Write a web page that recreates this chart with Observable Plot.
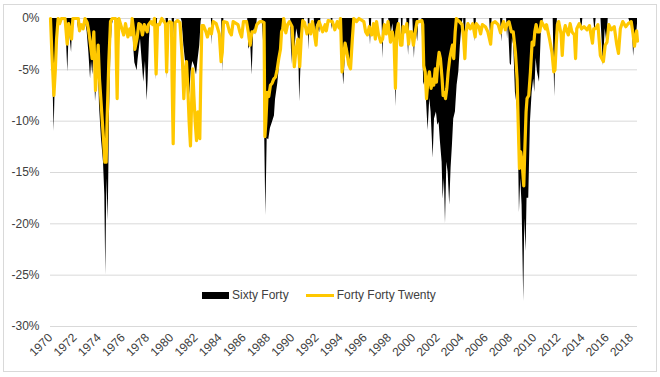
<!DOCTYPE html>
<html>
<head>
<meta charset="utf-8">
<script src="https://cdn.jsdelivr.net/npm/d3@7"></script>
<script src="https://cdn.jsdelivr.net/npm/@observablehq/plot@0.6"></script>
<style>
  html, body { margin: 0; padding: 0; background: #fff; }
  #wrap { position: relative; width: 660px; height: 377px; font-family: "Liberation Sans", Arial, sans-serif; }
  #border { position: absolute; left: 3px; top: 4px; width: 652px; height: 366px; border: 1px solid #d9d9d9; pointer-events: none; }
  #legend { position: absolute; left: 202px; top: 288px; display: flex; align-items: center; font-size: 12px; color: #404040; white-space: nowrap; }
  .sw-area { display: inline-block; width: 27px; height: 7px; background: #000; margin-right: 3px; }
  .sw-line { display: inline-block; width: 28px; height: 3px; background: #FFC800; margin-right: 3px; margin-left: 17px; }
</style>
</head>
<body>
<div id="wrap">
  <div id="chart"></div>
  <div id="border"></div>
  <div id="legend"><span class="sw-area"></span><span>Sixty Forty</span><span class="sw-line"></span><span>Forty Forty Twenty</span></div>
</div>
<script>
const seriesNames = ["Sixty Forty", "Forty Forty Twenty"];
const yearTicks = d3.range(1970, 2019, 2);
const pctTicks = [0, -5, -10, -15, -20, -25, -30];

// [year, drawdown %]
const sixtyForty = [
[1970.00,0],[1970.10,-3],[1970.20,-6],[1970.30,-11],[1970.40,-6],[1970.50,-1.5],[1970.60,0],
[1971.20,0],[1971.30,-1.5],[1971.43,-5.2],[1971.55,-1],[1971.74,-3.3],[1971.85,0],
[1972.22,0],[1972.28,-1],[1972.34,0],
[1972.85,0],[1973.03,-1.3],[1973.17,-3.3],[1973.31,-5.9],[1973.39,-4.2],[1973.50,-5.5],[1973.61,-2.6],[1973.72,-8.1],[1973.80,-6.8],[1973.94,-3.9],[1974.05,-8.5],[1974.21,-11.7],[1974.38,-14],[1974.49,-17.2],[1974.57,-25],[1974.66,-15.6],[1974.77,-19.7],[1974.88,-9.1],[1974.99,-3.3],[1975.10,-0.7],[1975.23,0],
[1975.45,0],[1975.51,-0.5],[1975.60,0],
[1976.75,0],[1976.89,-3],[1976.97,-4.3],[1977.16,-5.1],[1977.24,-4],[1977.44,-2],[1977.58,-4.2],[1977.71,-6.2],[1977.85,-4.2],[1977.99,-8],[1978.07,-6],[1978.18,-2],[1978.30,0],
[1978.60,0],[1978.73,-6],[1978.85,0],
[1979.55,0],[1979.64,-5.9],[1979.75,0],
[1980.05,0],[1980.14,-2.5],[1980.25,0],
[1980.80,0],[1980.88,-0.3],[1981.02,-2.6],[1981.16,-4.2],[1981.30,-5.2],[1981.43,-5.9],[1981.51,-7.5],[1981.62,-5.2],[1981.76,-4.2],[1981.90,-4.6],[1982.07,-5.5],[1982.18,-4.2],[1982.34,-2.6],[1982.45,-0.3],[1982.50,0],
[1983.30,0],[1983.36,-2.6],[1983.42,0],
[1984.15,0],[1984.24,-5.2],[1984.33,0],
[1986.30,0],[1986.39,-3],[1986.55,-2.5],[1986.67,-5.5],[1986.80,-1],[1986.95,-1.6],[1987.10,0],
[1987.49,0],[1987.63,-2.6],[1987.71,-11.7],[1987.80,-19.2],[1987.91,-11.7],[1988.04,-11.8],[1988.18,-10.7],[1988.32,-10.2],[1988.51,-9.5],[1988.60,-7.9],[1988.79,-6.3],[1988.87,-5.3],[1988.95,-4],[1989.06,-2.1],[1989.15,-1],[1989.28,0],
[1989.85,0],[1989.95,-4.5],[1990.05,-1],[1990.20,-3],[1990.35,-1],[1990.50,-2],[1990.60,-8.1],[1990.72,-4],[1990.85,-1.5],[1991.00,0],
[1991.30,0],[1991.37,-3.1],[1991.45,0],
[1991.80,0],[1991.90,-1.8],[1992.00,-0.5],[1992.25,-1.4],[1992.35,0],
[1993.20,0],[1993.28,-1.1],[1993.35,0],
[1994.00,0],[1994.10,-3.5],[1994.24,-6.5],[1994.38,-3.5],[1994.55,-2.8],[1994.79,-4.9],[1994.92,-3],[1995.05,0],
[1996.35,0],[1996.45,-2.6],[1996.55,0],
[1997.40,0],[1997.49,-3.9],[1997.58,0],
[1997.95,0],[1998.15,-1.6],[1998.30,-0.5],[1998.45,-3],[1998.57,-8.6],[1998.70,-1.3],[1998.80,0],
[1999.00,0],[1999.06,-2.9],[1999.15,0],[1999.45,0],[1999.60,-3.6],[1999.70,0],[1999.95,0],[2000.08,-3.9],[2000.20,-0.5],[2000.35,-2.3],[2000.45,0],
[2000.70,0],[2000.77,-2.6],[2000.85,-6.5],[2000.99,-5.9],[2001.08,-8],[2001.21,-10.9],[2001.35,-7.8],[2001.46,-9.1],[2001.63,-13.6],[2001.74,-9.8],[2001.90,-9.1],[2002.01,-10.4],[2002.12,-10.1],[2002.23,-12],[2002.37,-14],[2002.45,-17.6],[2002.56,-15.6],[2002.65,-20],[2002.76,-14],[2002.87,-15],[2003.00,-18.2],[2003.11,-14.6],[2003.22,-12.4],[2003.33,-9.8],[2003.47,-9.1],[2003.61,-6.5],[2003.75,-5.2],[2003.88,-2.6],[2004.02,-0.6],[2004.10,0],
[2004.15,0],[2004.25,-3],[2004.35,0],
[2005.00,0],[2005.10,-2.3],[2005.20,0],
[2006.30,0],[2006.40,-2.5],[2006.50,0],
[2007.20,0],[2007.30,-2.3],[2007.40,0],
[2007.70,0],[2007.78,-2],[2007.85,-0.5],[2008.00,-4.4],[2008.10,-4.6],[2008.18,-2],[2008.29,-2.6],[2008.43,-7.2],[2008.57,-8.5],[2008.65,-9.8],[2008.76,-18.9],[2008.87,-15.6],[2008.98,-18.2],[2009.12,-27.6],[2009.20,-19.5],[2009.31,-22.7],[2009.39,-17.5],[2009.53,-17.5],[2009.67,-10.1],[2009.81,-7.2],[2009.94,-5.9],[2010.03,-7.2],[2010.14,-3.9],[2010.25,-5.2],[2010.42,-6.2],[2010.58,-1],[2010.75,0],
[2011.55,0],[2011.68,-7.6],[2011.80,-2],[2011.90,0],
[2013.80,0],[2013.90,-1.3],[2014.00,0],
[2014.90,0],[2015.00,-1.3],[2015.10,0],
[2015.50,0],[2015.70,-4.6],[2015.85,-1],[2016.00,-2.5],[2016.10,0],
[2017.80,0],[2018.10,-1],[2018.20,-3.7],[2018.30,-2],[2018.45,-1.5],[2018.52,-0.5]
];

const fortyFortyTwenty = [
[1970.00,0],[1970.10,-3],[1970.20,-5.5],[1970.28,-7.5],[1970.40,-5],[1970.50,-2],[1970.63,0],
[1970.75,-0.5],[1970.90,0],[1971.20,0],[1971.38,-2.5],[1971.50,-0.5],[1971.74,-2],[1971.85,0],
[1972.30,0],[1972.40,-1.2],[1972.55,-0.6],[1972.70,-1],[1972.85,0],
[1973.03,-0.4],[1973.17,-1.3],[1973.31,-2.6],[1973.44,-3.9],[1973.58,-1.3],[1973.72,-7],[1973.86,-4.2],[1973.94,-2.6],[1974.05,-5.9],[1974.16,-7.8],[1974.27,-9.8],[1974.38,-11.7],[1974.49,-14],[1974.60,-14],[1974.68,-9.8],[1974.82,-4.2],[1974.96,-0.3],[1975.10,0],
[1975.38,0],[1975.46,-5],[1975.51,-7.8],[1975.58,-3],[1975.65,0],
[1975.90,-1],[1976.05,-1.6],[1976.20,-0.5],[1976.40,-1.8],[1976.55,-1],[1976.65,-1.6],[1976.75,0],
[1976.89,-1.3],[1976.97,-3],[1977.16,-1.9],[1977.30,-0.5],[1977.44,-0.6],[1977.60,-1.6],[1977.75,-0.6],[1977.99,-1.3],[1978.10,-0.6],[1978.30,-0.3],[1978.45,-0.6],[1978.60,0],[1978.73,-5.4],[1978.85,-0.6],[1979.00,-0.6],[1979.20,0],
[1979.50,-0.5],[1979.60,-5.2],[1979.72,-0.5],[1979.85,-0.3],
[1980.00,-0.4],[1980.05,-5.9],[1980.14,-12.2],[1980.22,-5.9],[1980.30,-0.4],[1980.50,-0.2],[1980.70,-0.4],
[1980.91,-4.2],[1981.02,-7.8],[1981.13,-5.2],[1981.24,-4.2],[1981.35,-6.8],[1981.46,-10.1],[1981.57,-12.4],[1981.68,-7.5],[1981.76,-4.9],[1981.85,-7.5],[1981.96,-10.1],[1982.07,-11.9],[1982.18,-9.1],[1982.26,-11.4],[1982.34,-11.7],[1982.42,-5.9],[1982.51,-0.7],
[1982.65,-0.7],[1982.85,-1.3],[1982.97,-1.8],[1983.15,-1],[1983.30,-1.5],[1983.45,-0.3],[1983.70,-0.5],
[1983.95,-1.5],[1984.10,-4.2],[1984.20,-3.3],[1984.30,-0.3],
[1984.60,-0.4],[1984.80,-1.3],[1984.95,-1.6],[1985.10,-0.3],[1985.50,-0.6],[1985.65,-1.3],[1985.80,-1.8],[1985.95,-0.3],
[1986.20,-0.3],[1986.39,-1.6],[1986.50,-2.6],[1986.65,-1.3],[1986.90,-1.3],[1987.05,-0.6],[1987.30,-0.3],[1987.50,-0.3],[1987.65,-0.4],[1987.72,-11.5],[1987.80,-10.1],[1987.91,-7.2],[1988.04,-7.6],[1988.18,-6.5],[1988.32,-6.3],[1988.45,-5.9],[1988.60,-5.7],[1988.73,-5],[1988.87,-3.9],[1989.01,-3],[1989.10,-1.3],[1989.20,-1],[1989.28,0],
[1989.45,-1.4],[1989.60,-0.6],[1989.75,-0.3],[1989.97,-0.8],[1990.15,-4.7],[1990.30,-3],[1990.45,-2],[1990.60,-4.7],[1990.72,-2],[1990.85,-0.2],[1991.00,-0.4],
[1991.20,-1.5],[1991.40,-0.6],[1991.50,-1.5],[1991.65,-0.3],[1991.95,-2.6],[1992.05,-0.8],[1992.20,-0.3],[1992.50,-1.3],[1992.70,-0.6],[1992.80,-1.2],[1992.95,-0.2],[1993.30,-0.3],[1993.50,-1.1],[1993.70,-0.3],[1993.85,-0.9],[1993.97,0],
[1994.10,-5.2],[1994.20,-4],[1994.35,-2.4],[1994.50,-3.3],[1994.65,-4.5],[1994.80,-4.9],[1994.95,-2],[1995.07,0],
[1995.30,-0.3],[1995.50,0],[1995.90,-0.3],[1996.05,-1.3],[1996.20,-1.6],[1996.35,-0.8],[1996.55,-1.6],[1996.70,-0.5],[1996.85,-2],[1996.95,-0.3],[1997.10,-1.5],[1997.30,-2.3],[1997.45,-2],[1997.60,-0.6],[1997.75,-1.5],[1997.90,-0.3],[1998.10,-2.3],[1998.25,-1.3],[1998.40,-2.3],[1998.51,-6.8],[1998.62,-1.3],[1998.75,-0.5],[1998.93,-2.6],[1999.05,-2.6],[1999.15,-0.8],[1999.30,-1.3],[1999.45,-0.5],[1999.60,-2.5],[1999.70,-1.3],[1999.85,-1.3],[2000.00,-2.6],[2000.15,-1.3],[2000.30,-0.3],[2000.50,-0.3],[2000.70,-0.2],[2000.77,-0.6],[2000.85,-4.6],[2000.97,-5.2],[2001.08,-7.8],[2001.21,-5.9],[2001.32,-5.2],[2001.46,-6.8],[2001.60,-5.9],[2001.68,-6.5],[2001.80,-4.9],[2001.90,-6.2],[2002.01,-4.4],[2002.12,-3.3],[2002.23,-3.9],[2002.37,-5.9],[2002.45,-7.5],[2002.56,-7.2],[2002.65,-7.8],[2002.76,-6.8],[2002.87,-5.2],[2003.00,-3.9],[2003.10,-3.3],[2003.22,-2.6],[2003.33,-3.9],[2003.45,-1.3],[2003.55,0],
[2003.80,-0.3],[2004.02,-0.6],[2004.15,-2],[2004.25,-3.9],[2004.35,-1.3],[2004.50,-0.5],[2004.70,-1],[2004.90,-0.5],[2005.10,-1.8],[2005.20,-0.5],[2005.40,-0.8],[2005.55,-1.5],[2005.70,-0.6],[2005.95,-0.8],[2006.15,-1.3],[2006.38,-2.5],[2006.50,-0.5],[2006.75,-0.3],[2007.00,-0.6],[2007.20,-1.4],[2007.30,-0.8],[2007.45,-0.3],[2007.60,-1.1],[2007.75,-0.5],[2007.90,-0.3],[2008.10,-1.3],[2008.25,-1.3],[2008.43,-3.3],[2008.57,-5.9],[2008.65,-9.8],[2008.76,-14.6],[2008.87,-13],[2008.98,-14],[2009.12,-16.3],[2009.20,-13],[2009.31,-9.1],[2009.39,-7.8],[2009.53,-7.5],[2009.67,-5.2],[2009.81,-2.3],[2009.94,-2.6],[2010.03,-1.3],[2010.14,-0.6],[2010.25,-1.3],[2010.44,-1.3],[2010.58,-0.3],
[2010.90,-1],[2011.00,-0.6],[2011.25,-2],[2011.45,-3.3],[2011.60,-5.2],[2011.70,-5],[2011.80,-2.6],[2011.90,-0.6],[2012.00,-0.3],[2012.20,-1.5],[2012.30,-3.6],[2012.40,-1.5],[2012.55,-0.7],[2012.80,-1.6],[2012.95,-0.5],[2013.10,-1.3],[2013.30,-1.6],[2013.40,-3.9],[2013.50,-1],[2013.70,-0.5],[2013.90,-1],[2014.10,-0.8],[2014.35,-1.1],[2014.55,-0.7],[2014.80,-2.4],[2014.90,-1],[2015.05,-1],[2015.25,-0.6],[2015.45,-3.6],[2015.70,-4.2],[2015.85,-2.6],[2016.00,-2.3],[2016.15,-0.6],[2016.35,-1.1],[2016.60,-0.8],[2016.80,-2.5],[2016.95,-3.4],[2017.10,-1],[2017.30,-0.3],[2017.55,-0.8],[2017.75,-0.5],[2018.00,-0.3],[2018.15,-1.5],[2018.27,-2.7],[2018.35,-2],[2018.45,-1.2],[2018.52,-2.2]
];

const chart = Plot.plot({
  width: 660,
  height: 377,
  marginLeft: 50,
  marginRight: 23,
  marginTop: 18,
  marginBottom: 51,
  style: { fontFamily: "'Liberation Sans', Arial, sans-serif", fontSize: "12px", color: "#404040", background: "transparent" },
  x: { type: "linear", domain: [1970, 2018.52] },
  y: { domain: [-30, 0] },
  marks: [
    Plot.ruleY(pctTicks, { stroke: "#d9d9d9", strokeWidth: 1 }),
    Plot.areaY(sixtyForty, { x: d => d[0], y: d => d[1], fill: "#000", title: () => seriesNames[0] }),
    Plot.lineY(fortyFortyTwenty, { x: d => d[0], y: d => d[1], stroke: "#FFC800", strokeWidth: 3.2 }),
    Plot.axisY({ ticks: pctTicks, tickFormat: d => d + "%", tickSize: 0, tickPadding: 11, label: null }),
    Plot.axisX({ ticks: yearTicks, tickFormat: d => String(d), tickSize: 0, tickPadding: 9, tickRotate: -45, label: null })
  ]
});
document.getElementById("chart").appendChild(chart);
</script>
</body>
</html>
